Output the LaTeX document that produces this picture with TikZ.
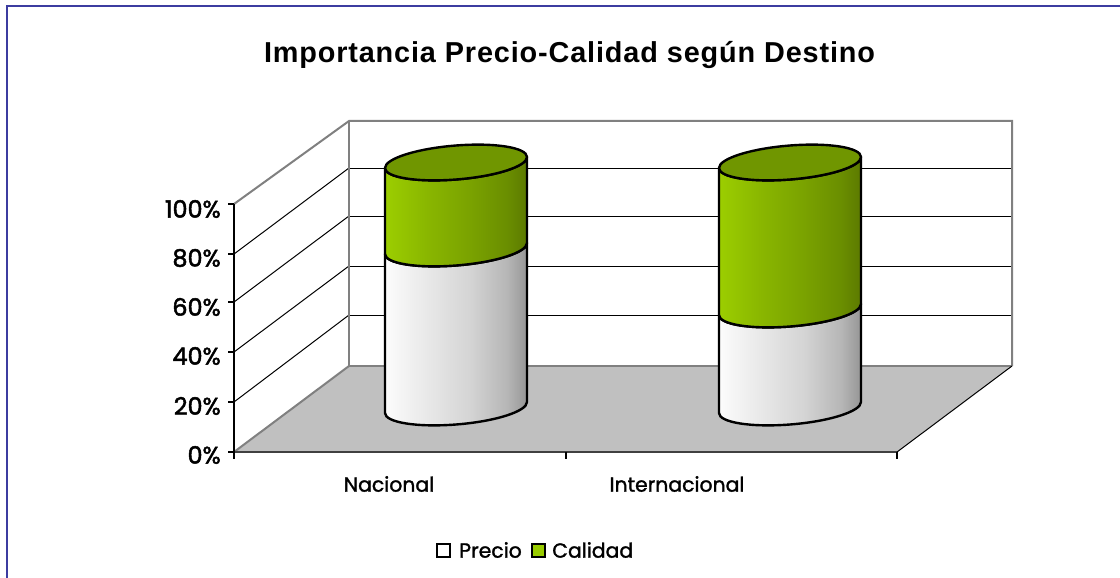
\documentclass[tikz,border=0pt]{standalone}
\usepackage{fontspec}
\setmainfont{Poppins}
\newfontfamily\titlefont{Liberation Sans}[LetterSpace=3]
\newfontfamily\axisfont{Poppins}[FakeBold=1.5]
\newfontfamily\pctfont{Poppins}[FakeBold=2]
\definecolor{framecol}{RGB}{60,60,160}
\definecolor{floorcol}{RGB}{192,192,192}
\definecolor{edgecol}{RGB}{128,128,128}
\definecolor{capgreen}{RGB}{112,150,0}
\definecolor{keygreen}{RGB}{153,204,0}
\definecolor{pa}{RGB}{252,252,252}
\definecolor{pb}{RGB}{232,232,232}
\definecolor{pc}{RGB}{212,212,212}
\definecolor{pd}{RGB}{182,182,182}
\definecolor{pe}{RGB}{150,150,150}
\definecolor{ga}{RGB}{156,206,0}
\definecolor{gb}{RGB}{137,182,0}
\definecolor{gc}{RGB}{122,162,0}
\definecolor{gd}{RGB}{106,142,0}
\definecolor{ge}{RGB}{92,122,0}
\pgfdeclarehorizontalshading{precioshade}{100bp}{color(0bp)=(pa); color(25bp)=(pa); color(40bp)=(pb); color(55bp)=(pc); color(68bp)=(pd); color(75bp)=(pe); color(100bp)=(pe)}
\pgfdeclarehorizontalshading{calidadshade}{100bp}{color(0bp)=(ga); color(25bp)=(ga); color(40bp)=(gb); color(55bp)=(gc); color(68bp)=(gd); color(75bp)=(ge); color(100bp)=(ge)}
\begin{document}
\begin{tikzpicture}[x=0.025cm, y=-0.025cm,
    wallline/.style={draw=edgecol, line width=0.05cm},
    gridline/.style={line width=0.025cm},
    tickline/.style={line width=0.03cm},
    cylline/.style={draw=black, line width=0.06cm, line join=round},
    pctlabel/.style={anchor=east, inner sep=0pt, font=\pctfont\fontsize{17}{19}\selectfont},
    catlabel/.style={font=\axisfont\fontsize{14.5}{16}\selectfont},
    keylabel/.style={anchor=west, font=\axisfont\fontsize{14.5}{16}\selectfont, inner sep=0pt}]
            \useasboundingbox (0,0) rectangle (1120,578);

            % Drawing frame
            \draw [framecol, line width=0.05cm] (7,578) -- (7,6) -- (1120,6);%

            % Title
            \node [anchor=base] (title) at (569.5,63) {\titlefont\bfseries\fontsize{20.5}{23}\selectfont Importancia Precio-Calidad según Destino};%

            % Drawing walls and floor
            \fill [white] (234,204) -- (349,121) -- (349,366) -- (234,452) -- cycle;%
            \fill [white] (349,121) -- (1012,121) -- (1012,366) -- (349,366) -- cycle;%
            \fill [floorcol] (234,452) -- (349,366) -- (1012,366) -- (897,452) -- cycle;%

            % Drawing grid lines on back wall
            \draw [gridline] (349,168) -- (1012,168);%
            \draw [gridline] (349,216) -- (1012,216);%
            \draw [gridline] (349,266) -- (1012,266);%
            \draw [gridline] (349,315) -- (1012,315);%

            % Drawing grid lines on side wall
            \draw [gridline] (234,254) -- (349,168);%
            \draw [gridline] (234,302) -- (349,216);%
            \draw [gridline] (234,352) -- (349,266);%
            \draw [gridline] (234,402) -- (349,315);%

            % Drawing wall edges
            \draw [wallline] (234,204) -- (349,121) -- (1012,121) -- (1012,366);%
            \draw [wallline] (349,121) -- (349,366) -- (1012,366);%
            \draw [wallline] (234,452) -- (349,366);%
            \draw [gridline] (1012,366) -- (897,452);%
            \draw [draw=black!75, line width=0.05cm] (234,452) -- (897,452);%

            % Drawing value axis
            \draw [tickline] (234,204) -- (234,452);%
            \draw [tickline] (228,204) -- (234,204);%
            \draw [tickline] (228,254) -- (234,254);%
            \draw [tickline] (228,302) -- (234,302);%
            \draw [tickline] (228,352) -- (234,352);%
            \draw [tickline] (228,402) -- (234,402);%
            \draw [tickline] (228,452) -- (234,452);%

            % Drawing category ticks
            \draw [tickline] (234,452) -- (234,459);%
            \draw [tickline] (566,452) -- (566,459);%
            \draw [tickline] (897,452) -- (897,459);%

            % Value labels
            \node [pctlabel] (p100) at (221,209) {100\%};%
            \node [pctlabel] (p80) at (221,258) {80\%};%
            \node [pctlabel] (p60) at (221,307) {60\%};%
            \node [pctlabel] (p40) at (221,356) {40\%};%
            \node [pctlabel] (p20) at (221,406) {20\%};%
            \node [pctlabel] (p0) at (221,455) {0\%};%

            % Drawing cylinder Nacional (65 / 35)
            \begin{scope}[shift={(456,407.5)}, yslant=0.0775]
            \shadedraw [shading=precioshade, cylline] (-71,-159) -- (-71,0)
                arc [start angle=180, end angle=0, x radius=71, y radius=17]
                -- (71,-159) arc [start angle=0, end angle=180, x radius=71, y radius=17] -- cycle;%
            \shadedraw [shading=calidadshade, cylline] (-71,-245) -- (-71,-159)
                arc [start angle=180, end angle=0, x radius=71, y radius=17]
                -- (71,-245) arc [start angle=0, end angle=180, x radius=71, y radius=17] -- cycle;%
            \filldraw [fill=capgreen, cylline] (0,-245) ellipse [x radius=71, y radius=17];%
            \end{scope}

            % Drawing cylinder Internacional (40 / 60)
            \begin{scope}[shift={(790,407.5)}, yslant=0.0775]
            \shadedraw [shading=precioshade, cylline] (-71,-98) -- (-71,0)
                arc [start angle=180, end angle=0, x radius=71, y radius=17]
                -- (71,-98) arc [start angle=0, end angle=180, x radius=71, y radius=17] -- cycle;%
            \shadedraw [shading=calidadshade, cylline] (-71,-245) -- (-71,-98)
                arc [start angle=180, end angle=0, x radius=71, y radius=17]
                -- (71,-245) arc [start angle=0, end angle=180, x radius=71, y radius=17] -- cycle;%
            \filldraw [fill=capgreen, cylline] (0,-245) ellipse [x radius=71, y radius=17];%
            \end{scope}

            % Category labels
            \node [catlabel] (nacional) at (389,484) {Nacional};%
            \node [catlabel] (internacional) at (677,484) {Internacional};%

            % Legend
            \draw [tickline, fill=white] (437,544) rectangle (450,557);%
            \node [keylabel] (precio) at (459,550) {Precio};%
            \draw [tickline, fill=keygreen] (532,544) rectangle (545,557);%
            \node [keylabel] (calidad) at (552,550) {Calidad};%
\end{tikzpicture}
\end{document}
